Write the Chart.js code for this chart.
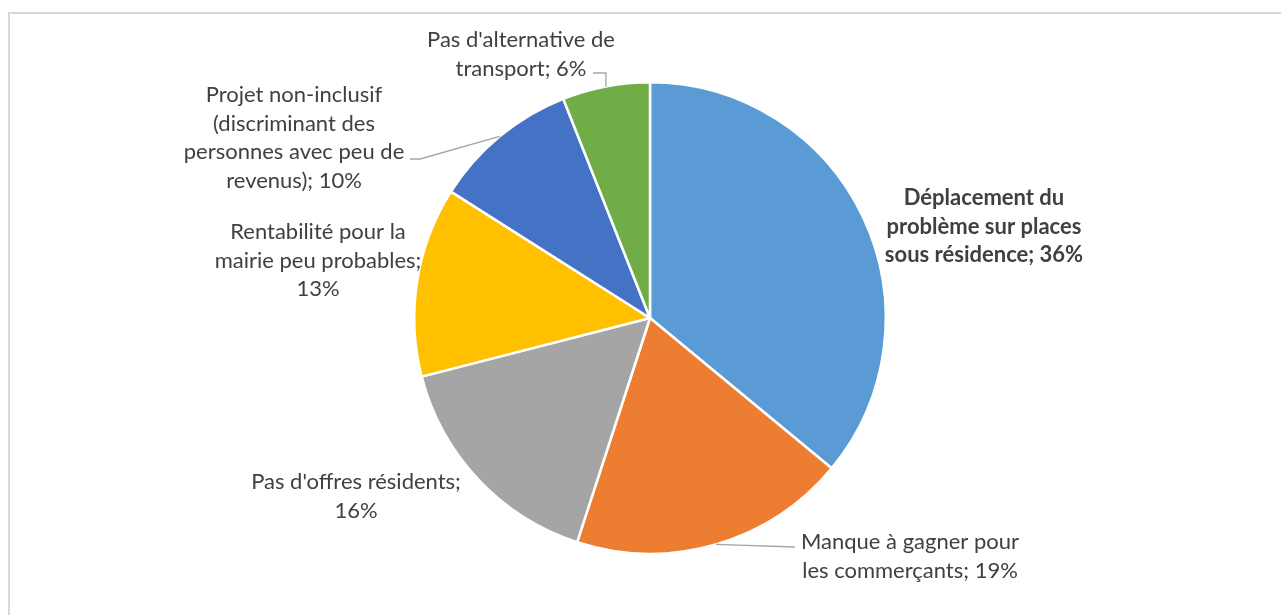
<!DOCTYPE html>
<html>
<head>
<meta charset="utf-8">
<script src="https://cdn.jsdelivr.net/npm/chart.js@4.4.1/dist/chart.umd.min.js"></script>
<style>
  html, body { margin: 0; padding: 0; background: #fff; overflow: hidden; }
  #wrap { position: relative; width: 1281px; height: 615px; }
  #frame { position: absolute; left: 8px; top: 12px; right: -5px; bottom: -5px;
           border-left: 2px solid #d9d9d9; border-top: 2px solid #d9d9d9; }
  canvas { position: absolute; left: 0; top: 0; }
</style>
</head>
<body>
<div id="wrap">
  <div id="frame"></div>
  <canvas id="pie" width="1281" height="615"></canvas>
</div>
<script>
Chart.defaults.font.family = 'Lato, "Open Sans", sans-serif';
Chart.defaults.color = '#404040';

const categories = [
    'Déplacement du problème sur places sous résidence',
    'Manque à gagner pour les commerçants',
    "Pas d'offres résidents",
    'Rentabilité pour la mairie peu probables',
    'Projet non-inclusif (discriminant des personnes avec peu de revenus)',
    "Pas d'alternative de transport"
];
const values = [36, 19, 16, 13, 10, 6];
const colours = ['#5B9BD5', '#ED7D31', '#A5A5A5', '#FFC000', '#4472C4', '#70AD47'];

// placement des étiquettes (décalage par rapport au centre du camembert)
const labelLayout = [
    { lines: ['Déplacement du', 'problème sur places', 'sous résidence; 36%'], x: 334, y: -120, bold: true },
    { lines: ['Manque à gagner pour', 'les commerçants; 19%'], x: 260, y: 224, leader: [[145, 229]] },
    { lines: ["Pas d'offres résidents;", '16%'], x: -294, y: 164 },
    { lines: ['Rentabilité pour la', 'mairie peu probables;', '13%'], x: -332, y: -86 },
    { lines: ['Projet non-inclusif', '(discriminant des', 'personnes avec peu de', 'revenus); 10%'], x: -356, y: -223, leader: [[-230, -159], [-240, -159]] },
    { lines: ["Pas d'alternative de", 'transport; 6%'], x: -129, y: -278, leader: [[-44, -245], [-57, -245]] }
];

const labelPlugin = {
    id: 'pieLabels',
    afterDatasetsDraw(chart) {
        const ctx = chart.ctx;
        const arcs = chart.getDatasetMeta(0).data;
        ctx.save();
        arcs.forEach((arc, i) => {
            const lay = labelLayout[i];
            const cx = arc.x, cy = arc.y;
            if (lay.leader) {
                const mid = (arc.startAngle + arc.endAngle) / 2;
                ctx.beginPath();
                ctx.moveTo(cx + Math.cos(mid) * arc.outerRadius, cy + Math.sin(mid) * arc.outerRadius);
                lay.leader.forEach(p => ctx.lineTo(cx + p[0], cy + p[1]));
                ctx.strokeStyle = '#a6a6a6';
                ctx.lineWidth = 1.3;
                ctx.stroke();
            }
            ctx.fillStyle = '#404040';
            ctx.font = (lay.bold ? 'bold ' : '') + '22px Lato, "Open Sans", sans-serif';
            ctx.textAlign = 'center';
            ctx.textBaseline = 'middle';
            lay.lines.forEach((t, k) => {
                ctx.fillText(t, cx + lay.x, cy + lay.y + k * 28.5);
            });
        });
        ctx.restore();
    }
};

new Chart(document.getElementById('pie'), {
    type: 'pie',
    data: {
        labels: categories,
        datasets: [{
            data: values,
            backgroundColor: colours,
            borderColor: '#ffffff',
            borderWidth: 2.5
        }]
    },
    options: {
        responsive: false,
        animation: false,
        layout: { padding: { top: 81, bottom: 60, left: 413, right: 394 } },
        plugins: {
            legend: { display: false },
            tooltip: { enabled: false }
        }
    },
    plugins: [labelPlugin]
});
</script>
</body>
</html>
